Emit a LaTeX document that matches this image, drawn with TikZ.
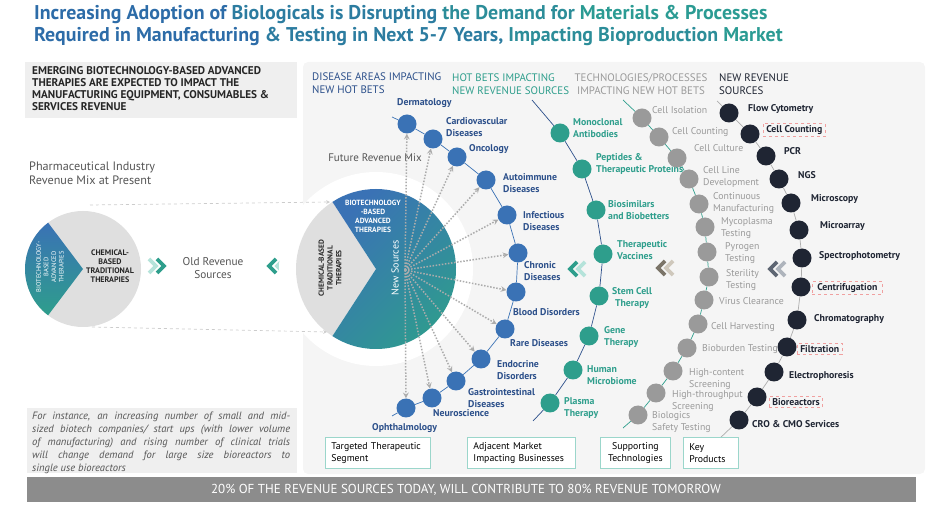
\documentclass[tikz,border=0pt]{standalone}
\usepackage{fontspec}
\setmainfont{PT Sans}
\usetikzlibrary{arrows, positioning}

\definecolor{tblue}{HTML}{2D6CA8}
\definecolor{tteal}{HTML}{2BA38F}
\definecolor{dotblue}{HTML}{3A72B5}
\definecolor{navy}{HTML}{2B4F8A}
\definecolor{hotteal}{HTML}{2E9E8C}
\definecolor{techgray}{HTML}{9A9A9A}
\definecolor{keydark}{HTML}{1F2533}
\definecolor{panelgray}{HTML}{F5F5F5}
\definecolor{boxgray}{HTML}{EFEFEF}
\definecolor{piegray}{HTML}{DFDFDF}
\definecolor{bargray}{HTML}{8C8C8C}
\definecolor{pinkline}{HTML}{F0A0A0}
\definecolor{legline}{HTML}{9BD6CB}
\definecolor{softtext}{HTML}{555555}
\definecolor{chevlight}{HTML}{B5E3DA}
\definecolor{chevbrown}{HTML}{7B7468}
\definecolor{chevbrownlt}{HTML}{CFC8BC}
\definecolor{chevslate}{HTML}{5E6673}
\definecolor{chevslatelt}{HTML}{AEB4BC}

\begin{document}
\begin{tikzpicture}[x=1pt, y=-1pt,
        every node/.style={inner sep=1pt},
        bdot/.style={circle, fill=dotblue, minimum size=19pt, inner sep=0pt},
        hdot/.style={circle, fill=hotteal, minimum size=19pt, inner sep=0pt},
        tdot/.style={circle, fill=techgray, minimum size=19pt, inner sep=0pt},
        kdot/.style={circle, fill=keydark, minimum size=19pt, inner sep=0pt},
        btxt/.style={anchor=west, align=left, text=navy, font=\fontsize{9.8}{11.5}\selectfont\bfseries},
        htxt/.style={anchor=west, align=left, text=hotteal, font=\fontsize{9.8}{11.5}\selectfont\bfseries},
        ttxt/.style={anchor=west, align=left, text=techgray, font=\fontsize{9.8}{11.5}\selectfont},
        ktxt/.style={anchor=west, align=left, text=keydark, font=\fontsize{9.8}{11.5}\selectfont\bfseries},
        hlbox/.style={ktxt, draw=pinkline, dashed, line width=0.5pt, inner xsep=3pt, inner ysep=2pt},
        hdr/.style={anchor=west, align=left, font=\fontsize{10.9}{12.8}\selectfont},
        legbox/.style={draw=legline, fill=white, line width=0.8pt, inner xsep=6pt, minimum height=31pt, align=left, font=\fontsize{9.8}{12}\selectfont},
        dotarr/.style={->, >=stealth, draw=gray!65, line width=1.5pt, dash pattern=on 1.5pt off 1.6pt},
        dasharr/.style={->, >=stealth, draw=gray!40, dashed, line width=0.7pt},
        chev/.style={line width=3.8pt}
    ]
    \useasboundingbox (0,0) rectangle (940,510);

    % title
    \node[anchor=west, align=left, font=\fontsize{19.9}{22}\selectfont\bfseries] (title) at (33,26)
        {\textcolor{tblue}{Increasing Adoption of} \textcolor{tblue!70!tteal}{Biologicals is Disrupting} \textcolor{tblue!40!tteal}{the Demand for} \textcolor{tblue!15!tteal}{Materials \& Processes}\\
         \textcolor{tblue}{Required in Manufacturing} \textcolor{tblue!70!tteal}{\& Testing in Next 5-7 Years,} \textcolor{tblue!40!tteal}{Impacting Bioproduction} \textcolor{tblue!15!tteal}{Market}};

    % backgrounds
    \fill[panelgray, rounded corners=5pt] (303,62) rectangle (925,474);
    \fill[boxgray] (25,62) rectangle (297,118);
    \fill[boxgray] (27,408) rectangle (297,473);
    \fill[bargray] (27,477) rectangle (916,502);

    % left column
    \node[anchor=west, align=left, text=black!85, font=\fontsize{11.2}{12}\selectfont\bfseries] (emerge) at (31,89)
        {EMERGING BIOTECHNOLOGY-BASED ADVANCED\\THERAPIES ARE EXPECTED TO IMPACT THE\\MANUFACTURING EQUIPMENT, CONSUMABLES \&\\SERVICES REVENUE};
    \node[anchor=west, align=left, text=softtext, font=\fontsize{12.2}{14}\selectfont] (present) at (28,173)
        {Pharmaceutical Industry\\Revenue Mix at Present};
    \node[anchor=north west, text width=258pt, align=justify, text=softtext, font=\fontsize{10.6}{13}\selectfont\itshape] (note) at (31,411)
        {For instance, an increasing number of small and mid-\linebreak sized biotech companies/ start ups (with lower volume\linebreak of manufacturing) and rising number of clinical trials\linebreak will change demand for large size bioreactors to\linebreak single use bioreactors};

    % present revenue pie
    \coordinate (lpc) at (83,269);
    \fill[piegray] (lpc) circle[radius=58];
    \shade[top color=dotblue, bottom color=hotteal] (lpc) -- ++(127:58) arc[start angle=127, end angle=233, radius=58] -- cycle;
    \node[rotate=90, align=center, text=white, font=\fontsize{6.5}{7.6}\selectfont] (lpbio) at (50,267)
        {BIOTECHNOLOGY-\\BASED\\ADVANCED\\THERAPIES};
    \node[align=center, text=black!85, font=\fontsize{8}{9}\selectfont\bfseries] (lpchem) at (110,266)
        {CHEMICAL-\\BASED\\TRADITIONAL\\THERAPIES};

    % old revenue
    \draw[chev, chevlight] (149,259) -- (156,266) -- (149,273);
    \draw[chev, hotteal] (157,259) -- (164,266) -- (157,273);
    \node[align=center, text=softtext, font=\fontsize{11.3}{12.5}\selectfont] (oldrev) at (213,268) {Old Revenue\\Sources};
    \draw[chev, hotteal] (276,259) -- (269,266) -- (276,273);
    \draw[chev, chevlight] (284,259) -- (277,266) -- (284,273);

    % future revenue pie
    \coordinate (fc) at (376,269);
    \fill[white] (fc) circle[radius=97];
    \fill[piegray] (fc) -- ++(123:80) arc[start angle=123, end angle=237, radius=80] -- cycle;
    \shade[top color=dotblue, bottom color=hotteal, shading angle=45] (fc) -- ++(123:80) arc[start angle=123, end angle=-123, radius=80] -- cycle;
    \node[text=softtext, font=\fontsize{11}{12.5}\selectfont] (future) at (375,158) {Future Revenue Mix};
    \node[align=center, text=white, font=\fontsize{7.5}{9}\selectfont\bfseries] (fcbio) at (373,216)
        {BIOTECHNOLOGY\\-BASED\\ADVANCED\\THERAPIES};
    \node[rotate=90, align=center, text=black!85, font=\fontsize{7.4}{8.8}\selectfont\bfseries] (fcchem) at (330,268)
        {CHEMICAL-BASED\\TRADITIONAL\\THERAPIES};
    \node[rotate=90, text=white, font=\fontsize{10}{12}\selectfont] (newsrc) at (395,268) {New Sources};

    \coordinate (lptop) at (90,205);
    \coordinate (lpbot) at (92,327);
    \coordinate (fctop) at (330,202);
    \coordinate (fcbot) at (327,332);
    \draw[dasharr] (lptop) -- (fctop);
    \draw[dasharr] (lpbot) -- (fcbot);

    % column headers
    \node[hdr, text=navy] (h1) at (311,83) {DISEASE AREAS IMPACTING\\NEW HOT BETS};
    \node[hdr, text=hotteal] (h2) at (451,84) {HOT BETS IMPACTING\\NEW REVENUE SOURCES};
    \node[hdr, anchor=center, align=center, text=techgray] (h3) at (641,84) {TECHNOLOGIES/PROCESSES\\IMPACTING NEW HOT BETS};
    \node[hdr, text=keydark] (h4) at (718,84) {NEW REVENUE\\SOURCES};

    % disease areas
    \node[bdot] (derm) at (407,124) {};
    \node[bdot] (cardio) at (433,139) {};
    \node[bdot] (onco) at (457,157) {};
    \node[bdot] (autoim) at (486,180) {};
    \node[bdot] (infect) at (507,215) {};
    \node[bdot] (chronic) at (518,253) {};
    \node[bdot] (blood) at (516,292) {};
    \node[bdot] (rare) at (505,329) {};
    \node[bdot] (endo) at (481,359) {};
    \node[bdot] (gastro) at (456,381) {};
    \node[bdot] (neuro) at (432,398) {};
    \node[bdot] (ophth) at (406,408) {};
    \coordinate (btop) at (392,117);
    \coordinate (bbot) at (392,416);
    \draw[dotblue, line width=0.7pt] (btop) -- (derm) -- (cardio) -- (onco) -- (autoim) -- (infect) -- (chronic)
        -- (blood) -- (rare) -- (endo) -- (gastro) -- (neuro) -- (ophth) -- (bbot);

    \node[btxt] (derm-t) at (396,103) {Dermatology};
    \node[btxt] (cardio-t) at (445,127) {Cardiovascular\\Diseases};
    \node[btxt] (onco-t) at (468,149) {Oncology};
    \node[btxt] (autoim-t) at (502,183) {Autoimmune\\Diseases};
    \node[btxt] (infect-t) at (522,221) {Infectious\\Diseases};
    \node[btxt] (chronic-t) at (523,271) {Chronic\\Diseases};
    \node[btxt] (blood-t) at (512,312) {Blood Disorders};
    \node[btxt] (rare-t) at (509,343) {Rare Diseases};
    \node[btxt] (endo-t) at (496,370) {Endocrine\\Disorders};
    \node[btxt] (gastro-t) at (467,398) {Gastrointestinal\\Diseases};
    \node[btxt] (neuro-t) at (432,413) {Neuroscience};
    \node[btxt] (ophth-t) at (371,428) {Ophthalmology};

    % new sources to disease areas
    \coordinate (src) at (405,270);
    \draw[dotarr] (src) -- (derm);
    \draw[dotarr] (src) -- (cardio);
    \draw[dotarr] (src) -- (onco);
    \draw[dotarr] (src) -- (autoim);
    \draw[dotarr] (src) -- (infect);
    \draw[dotarr] (src) -- (chronic);
    \draw[dotarr] (src) -- (blood);
    \draw[dotarr] (src) -- (rare);
    \draw[dotarr] (src) -- (endo);
    \draw[dotarr] (src) -- (gastro);
    \draw[dotarr] (src) -- (neuro);
    \draw[dotarr] (src) -- (ophth);

    % hot bets
    \node[hdot] (mono) at (560,133) {};
    \node[hdot] (pept) at (582,169) {};
    \node[hdot] (bios) at (596,210) {};
    \node[hdot] (vacc) at (603,254) {};
    \node[hdot] (stem) at (599,296) {};
    \node[hdot] (gene) at (589,336) {};
    \node[hdot] (micro) at (573,370) {};
    \node[hdot] (plasma) at (550,403) {};
    \coordinate (htop) at (532,100);
    \coordinate (hbot) at (533,421);
    \draw[navy, line width=0.7pt] (htop) -- (mono) -- (pept) -- (bios) -- (vacc) -- (stem) -- (gene) -- (micro) -- (plasma) -- (hbot);

    \node[htxt] (mono-t) at (572,128) {Monoclonal\\Antibodies};
    \node[htxt] (pept-t) at (595,164) {Peptides \&\\Therapeutic Proteins};
    \node[htxt] (bios-t) at (607,210) {Biosimilars\\and Biobetters};
    \node[htxt] (vacc-t) at (616,250) {Therapeutic\\Vaccines};
    \node[htxt, align=center] (stem-t) at (611,298) {Stem Cell\\Therapy};
    \node[htxt] (gene-t) at (603,337) {Gene\\Therapy};
    \node[htxt] (micro-t) at (586,375) {Human\\Microbiome};
    \node[htxt] (plasma-t) at (563,408) {Plasma\\Therapy};

    \draw[chev, hotteal] (577,262) -- (570,269) -- (577,276);
    \draw[chev, chevlight] (585,262) -- (578,269) -- (585,276);

    % technologies / processes
    \node[tdot] (iso) at (642,118) {};
    \node[tdot] (ccount) at (659,137) {};
    \node[tdot] (cult) at (677,158) {};
    \node[tdot] (cline) at (689,179) {};
    \node[tdot] (cont) at (699,204) {};
    \node[tdot] (myco) at (705,227) {};
    \node[tdot] (pyro) at (707,252) {};
    \node[tdot] (steril) at (709,277) {};
    \node[tdot] (virus) at (704,300) {};
    \node[tdot] (harv) at (698,324) {};
    \node[tdot] (biob) at (687,348) {};
    \node[tdot] (hcs) at (673,371) {};
    \node[tdot] (hts) at (656,393) {};
    \node[tdot] (bst) at (638,415) {};
    \coordinate (ttop) at (623,100);
    \coordinate (tbot) at (623,428);
    \draw[hotteal, line width=0.7pt] (ttop) -- (iso) -- (ccount) -- (cult) -- (cline) -- (cont) -- (myco) -- (pyro)
        -- (steril) -- (virus) -- (harv) -- (biob) -- (hcs) -- (hts) -- (bst) -- (tbot);

    \node[ttxt] (iso-t) at (651,110) {Cell Isolation};
    \node[ttxt] (ccount-t) at (671,132) {Cell Counting};
    \node[ttxt] (cult-t) at (693,148) {Cell Culture};
    \node[ttxt] (cline-t) at (702,177) {Cell Line\\Development};
    \node[ttxt] (cont-t) at (712,203) {Continuous\\Manufacturing};
    \node[ttxt] (myco-t) at (720,228) {Mycoplasma\\Testing};
    \node[ttxt] (pyro-t) at (724,253) {Pyrogen\\Testing};
    \node[ttxt] (steril-t) at (725,280) {Sterility\\Testing};
    \node[ttxt] (virus-t) at (718,301) {Virus Clearance};
    \node[ttxt] (harv-t) at (710,327) {Cell Harvesting};
    \node[ttxt] (biob-t) at (701,349) {Bioburden Testing};
    \node[ttxt] (hcs-t) at (688,379) {High-content\\Screening};
    \node[ttxt] (hts-t) at (671,401) {High-throughput\\Screening};
    \node[ttxt] (bst-t) at (651,422) {Biologics\\Safety Testing};

    \draw[chev, chevbrown] (665,261) -- (658,268) -- (665,275);
    \draw[chev, chevbrownlt] (673,261) -- (666,268) -- (673,275);

    % key products
    \node[kdot] (flow) at (729,113) {};
    \node[kdot] (kcount) at (750,134) {};
    \node[kdot] (pcr) at (766,156) {};
    \node[kdot] (ngs) at (779,179) {};
    \node[kdot] (micros) at (791,203) {};
    \node[kdot] (marray) at (799,230) {};
    \node[kdot] (spec) at (802,258) {};
    \node[kdot] (centri) at (801,287) {};
    \node[kdot] (chrom) at (797,320) {};
    \node[kdot] (filt) at (787,347) {};
    \node[kdot] (electro) at (774,372) {};
    \node[kdot] (biorx) at (757,397) {};
    \node[kdot] (cro) at (739,420) {};
    \coordinate (ktop) at (717,101);
    \coordinate (kbot) at (718,440);
    \draw[techgray!80, line width=0.7pt] (ktop) -- (flow) -- (kcount) -- (pcr) -- (ngs) -- (micros) -- (marray) -- (spec)
        -- (centri) -- (chrom) -- (filt) -- (electro) -- (biorx) -- (cro) -- (kbot);

    \node[ktxt] (flow-t) at (747,109) {Flow Cytometry};
    \node[hlbox] (kcount-t) at (763,130) {Cell Counting};
    \node[ktxt] (pcr-t) at (783,151) {PCR};
    \node[ktxt] (ngs-t) at (797,175) {NGS};
    \node[ktxt] (micros-t) at (810,199) {Microscopy};
    \node[ktxt] (marray-t) at (819,226) {Microarray};
    \node[ktxt] (spec-t) at (818,256) {Spectrophotometry};
    \node[hlbox, inner xsep=5pt] (centri-t) at (812,288) {Centrifugation};
    \node[ktxt] (chrom-t) at (813,319) {Chromatography};
    \node[hlbox] (filt-t) at (797,349) {Filtration};
    \node[ktxt] (electro-t) at (788,376) {Electrophoresis};
    \node[hlbox] (biorx-t) at (769,402) {Bioreactors};
    \node[ktxt] (cro-t) at (751,424) {CRO \& CMO Services};

    \draw[chev, chevslate] (777,262) -- (770,269) -- (777,276);
    \draw[chev, chevslatelt] (785,262) -- (778,269) -- (785,276);

    % legend
    \node[legbox, text width=93pt, anchor=north west] (leg1) at (325,437) {Targeted Therapeutic\\Segment};
    \node[legbox, text width=96pt, anchor=north west] (leg2) at (467,437) {Adjacent Market\\Impacting Businesses};
    \node[legbox, text width=58pt, align=center, anchor=north west] (leg3) at (600,437) {Supporting\\Technologies};
    \node[legbox, text width=43pt, anchor=north west] (leg4) at (683,437) {Key\\Products};

    % bottom bar
    \node[text=white, font=\fontsize{13}{15}\selectfont] (bartxt) at (466,490)
        {20\% OF THE REVENUE SOURCES TODAY, WILL CONTRIBUTE TO 80\% REVENUE TOMORROW};
\end{tikzpicture}
\end{document}
